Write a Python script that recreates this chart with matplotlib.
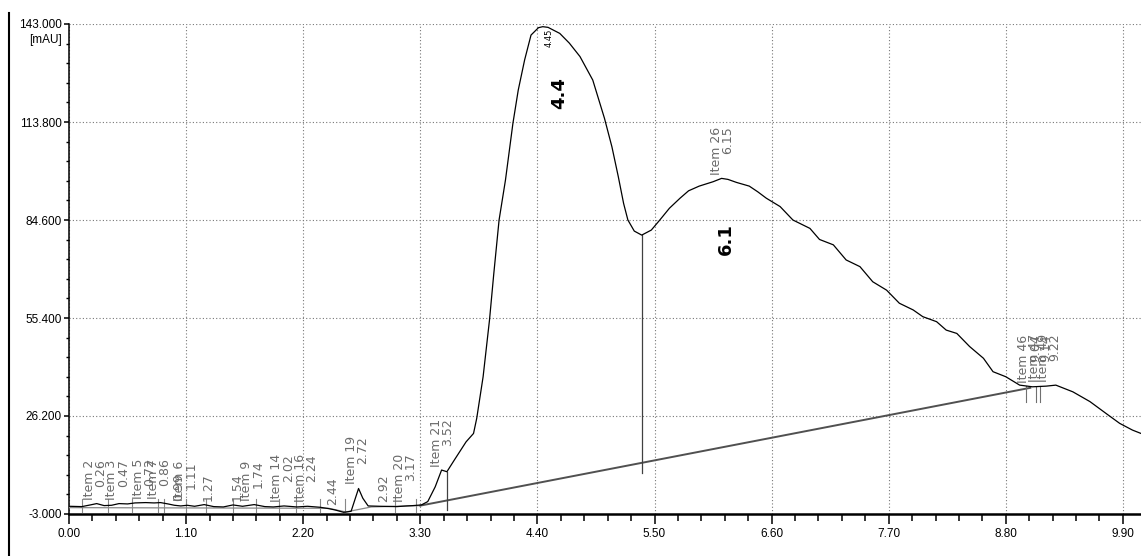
import numpy as np
import matplotlib
matplotlib.use("Agg")
import matplotlib.pyplot as plt
from matplotlib.lines import Line2D
from matplotlib.ticker import MultipleLocator, FormatStrFormatter

# chromatogram trace [min, mAU]
time = [0.00, 0.12, 0.20, 0.26, 0.33, 0.40, 0.47, 0.55, 0.62, 0.72, 0.80, 0.86, 0.93,
        0.99, 1.05, 1.11, 1.18, 1.27, 1.36, 1.45, 1.54, 1.63, 1.74, 1.84, 1.92, 2.02,
        2.14, 2.24, 2.36, 2.44, 2.50, 2.58, 2.65, 2.69, 2.72, 2.76, 2.81, 2.92, 3.08,
        3.17, 3.23, 3.31, 3.37, 3.44, 3.50, 3.55, 3.62, 3.73, 3.80, 3.83, 3.89, 3.95,
        3.99, 4.04, 4.10, 4.17, 4.22, 4.28, 4.34, 4.41, 4.45, 4.50, 4.61, 4.70, 4.80,
        4.92, 5.03, 5.10, 5.16, 5.21, 5.25, 5.31, 5.38, 5.47, 5.55, 5.64, 5.74, 5.82,
        5.92, 6.05, 6.13, 6.19, 6.27, 6.39, 6.47, 6.55, 6.68, 6.80, 6.96, 7.05, 7.18,
        7.30, 7.43, 7.55, 7.68, 7.80, 7.93, 8.02, 8.15, 8.24, 8.34, 8.46, 8.59, 8.68,
        8.80, 8.93, 9.05, 9.18, 9.27, 9.43, 9.59, 9.74, 9.87, 9.99, 10.07]
signal = [-0.7, -0.8, -0.3, 0.1, -0.5, -0.4, 0.1, 0.0, 0.3, 0.4, 0.3, 0.4, 0.0,
          -0.4, -0.6, -0.4, -0.7, -0.2, -0.8, -0.9, -0.3, -0.7, -0.2, -0.8, -0.9, -0.6,
          -0.9, -0.7, -1.0, -1.4, -1.8, -2.5, -2.2, 1.7, 4.6, 1.7, -0.6, -0.7, -0.8,
          -0.6, -0.5, -0.3, 0.7, 5.1, 10.1, 9.6, 13.1, 18.5, 21.0, 25.5, 37.9, 54.8,
          68.5, 84.6, 96.5, 113.4, 123.3, 132.3, 139.7, 141.9, 142.2, 142.0, 140.2, 137.3, 133.3,
          126.3, 114.9, 106.4, 97.5, 89.5, 84.6, 81.3, 80.1, 81.6, 84.6, 88.1, 91.1, 93.3,
          94.7, 96.0, 97.0, 96.7, 95.8, 94.7, 93.0, 91.1, 88.6, 84.6, 82.1, 78.8, 77.2,
          72.7, 70.7, 66.2, 63.7, 59.8, 57.8, 55.8, 54.3, 51.8, 50.8, 46.9, 43.4, 39.4,
          37.9, 35.4, 34.9, 35.1, 35.4, 33.4, 30.5, 27.0, 24.0, 22.0, 21.0]

# peak labels
peak_names = ["Item 2", "Item 3", "Item 5", "Item 7", "", "Item 6", "", "", "Item 9",
              "Item 14", "Item 16", "", "Item 19", "", "Item 20", "Item 21", "Item 26",
              "Item 46", "Item 47", "Item 49"]
peak_times = [0.26, 0.47, 0.72, 0.86, 0.99, 1.11, 1.27, 1.54, 1.74, 2.02, 2.24, 2.44,
              2.72, 2.92, 3.17, 3.52, 6.15, 9.04, 9.14, 9.22]

# integration baseline and peak delimiters
base_x = [0.00, 2.44, 2.60, 2.84, 3.30, 9.03]
base_y = [-1.1, -1.3, -2.4, -0.9, -0.5, 34.6]
delim_x = [0.12, 0.37, 0.59, 0.84, 0.89, 1.10, 1.29, 1.54, 1.76, 1.97, 2.13, 2.36,
           2.59, 3.06, 3.26]
drop_x = [3.55, 5.38]
drop_bottom = [-1.8, 9.2]
end_delims = [8.99, 9.08, 9.12]

big_labels = ["4.4", "6.1"]
big_x = [4.60, 6.17]
big_y = [122.5, 79.0]

tick_font = ["Liberation Sans", "DejaVu Sans"]

fig = plt.figure(figsize=(11.41, 5.56), dpi=100)
ax = fig.add_axes([69 / 1141, 1 - 514 / 556, 1 - 69 / 1141, (514 - 24) / 556])

ax.plot(time, signal, color="black", lw=0.9, zorder=5)

# baseline
ax.plot(base_x[:5], base_y[:5], color="#888888", lw=0.9, zorder=3)
ax.plot(base_x[4:], base_y[4:], color="#505050", lw=1.4, zorder=3)
for xd in delim_x:
    ax.plot([xd, xd], [-2.4, 1.6], color="#888888", lw=0.8, zorder=3)
for xd, yb in zip(drop_x, drop_bottom):
    ax.plot([xd, xd], [yb, np.interp(xd, time, signal)], color="#404040", lw=0.9, zorder=3)
for xd in end_delims:
    ax.plot([xd, xd], [30.5, np.interp(xd, time, signal)], color="#707070", lw=0.8, zorder=3)

# peak labels
for name, t in zip(peak_names, peak_times):
    txt = f"{name}\n{t:.2f}" if name else f"{t:.2f}"
    ax.text(t + 0.10, np.interp(t, time, signal) + 1.2, txt, rotation=90,
            ha="right", va="bottom", fontsize=9, color="#6a6a6a",
            linespacing=0.85, zorder=6)

ax.text(4.51, 141.5, "4.45", rotation=90, ha="center", va="top", fontsize=6,
        color="black", zorder=6)
for lab, bx, by in zip(big_labels, big_x, big_y):
    ax.text(bx, by, lab, rotation=90, ha="center", va="center", fontsize=13,
            fontweight="bold", color="black", zorder=6)

ax.set_xlim(0, 10.07)
ax.set_ylim(-3, 143)
ax.xaxis.set_major_locator(MultipleLocator(1.10))
ax.xaxis.set_minor_locator(MultipleLocator(0.22))
ax.yaxis.set_major_locator(MultipleLocator(29.2, offset=-3))
ax.yaxis.set_minor_locator(MultipleLocator(5.84, offset=-3))
ax.xaxis.set_major_formatter(FormatStrFormatter("%.2f"))
ax.yaxis.set_major_formatter(FormatStrFormatter("%.3f"))

ax.grid(True, which="major", color="#777777", linestyle=(0, (1, 2)), lw=0.8)
ax.spines["top"].set_visible(False)
ax.spines["right"].set_visible(False)
ax.spines["left"].set_linewidth(1.1)
ax.spines["bottom"].set_linewidth(1.8)
ax.tick_params(axis="x", which="major", direction="out", length=7, width=1.1, pad=3)
ax.tick_params(axis="x", which="minor", direction="out", length=5, width=1.1)
ax.tick_params(axis="y", which="major", direction="out", length=3.5, width=1.1, pad=1.5)
ax.tick_params(axis="y", which="minor", direction="out", length=2.5, width=1.0)
for lbl in ax.get_xticklabels() + ax.get_yticklabels():
    lbl.set_family(tick_font)
    lbl.set_fontsize(8.5)

ax.annotate("[mAU]", xy=(0, 143), xycoords=("axes fraction", "data"),
            xytext=(-5, -7), textcoords="offset points", ha="right", va="top",
            fontsize=8.5, family=tick_font)

fig.add_artist(Line2D([9 / 1141, 9 / 1141], [0, 1 - 13 / 556], color="black", lw=1.5))

fig.savefig("out.png", dpi=100)
